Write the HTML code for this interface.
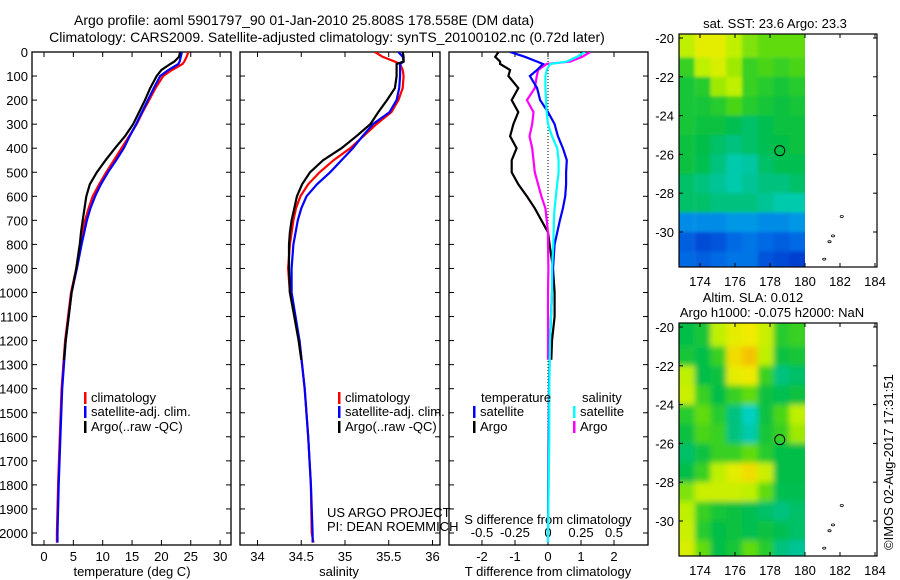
<!DOCTYPE html>
<html><head><meta charset="utf-8"><style>
body{margin:0;background:#fff}
svg{display:block;font-family:"Liberation Sans",sans-serif}
</style></head><body>
<svg id="fig" width="900" height="580" viewBox="0 0 900 580" xmlns="http://www.w3.org/2000/svg">
<defs>
<clipPath id="c1"><rect x="32" y="52" width="199" height="493"/></clipPath>
<clipPath id="c2"><rect x="240" y="52" width="200" height="493"/></clipPath>
<clipPath id="c3"><rect x="449" y="52" width="199" height="493"/></clipPath>
<clipPath id="m1c"><rect x="679" y="34" width="126" height="233"/></clipPath>
<clipPath id="m2c"><rect x="679" y="323" width="126" height="233"/></clipPath>
<filter id="bl" x="-5%" y="-5%" width="110%" height="110%"><feGaussianBlur stdDeviation="3"/></filter>
<filter id="bl2" x="-5%" y="-5%" width="110%" height="110%"><feGaussianBlur stdDeviation="1.5"/></filter>
</defs>
<text x="304" y="25" font-size="14" text-anchor="middle">Argo profile: aoml 5901797_90 01-Jan-2010 25.808S 178.558E (DM data)</text>
<text x="327" y="42" font-size="14" text-anchor="middle">Climatology: CARS2009. Satellite-adjusted climatology: synTS_20100102.nc (0.72d later)</text>
<g id="g"></g>
<text transform="translate(893,550) rotate(-90)" font-size="13">©IMOS 02-Aug-2017 17:31:51</text>
</svg>
<script>
// ---- profile data ----
const depthTop = [0,20,40,50,75,100,150,200,250,300,350,400,450,500,550,600,650,700,800,900,1000,1200,1400,1600,1800,2000,2040];
const tempClim = [24.6,24.3,23.9,23.6,21.8,20.3,19.0,17.9,16.8,15.8,14.5,13.2,11.9,10.6,9.4,8.3,7.6,7.0,6.1,5.5,4.6,3.6,3.0,2.7,2.4,2.2,2.2];
const tempSat  = [23.5,23.3,23.1,22.9,21.2,19.8,18.7,17.7,16.7,15.7,14.6,13.6,12.3,10.9,9.7,8.7,7.9,7.3,6.4,5.6,4.7,3.7,3.1,2.8,2.5,2.3,2.3];
const depthArgo = [0,20,40,50,75,100,150,200,250,300,350,400,450,500,550,600,650,700,750,800,900,1000,1100,1200,1280];
const tempArgo = [23.2,23.0,22.2,21.5,20.0,19.2,18.1,17.2,16.2,15.2,13.8,12.1,10.5,9.0,7.8,7.2,6.9,6.6,6.3,6.1,5.5,4.7,4.2,3.7,3.4];
const salClim = [35.34,35.43,35.57,35.63,35.66,35.67,35.66,35.61,35.53,35.36,35.21,35.06,34.87,34.71,34.58,34.49,34.44,34.41,34.37,34.35,34.37,34.48,34.54,34.58,34.61,34.62,34.64];
const salSat  = [35.61,35.66,35.67,35.63,35.63,35.63,35.62,35.59,35.51,35.32,35.2,35.09,34.96,34.83,34.68,34.56,34.5,34.46,34.41,34.39,34.39,34.48,34.54,34.58,34.61,34.63,34.63];
const salArgo = [35.66,35.67,35.67,35.59,35.59,35.59,35.57,35.48,35.38,35.29,35.13,34.96,34.75,34.6,34.51,34.45,34.42,34.39,34.37,34.36,34.36,34.37,34.42,34.47,34.5];
const dTSat  = [-1.15,-0.7,-0.33,-0.15,-0.33,-0.55,-0.33,-0.24,0,0.2,0.3,0.45,0.57,0.55,0.55,0.52,0.45,0.36,0.2,0.15,0.12,0.06,0.03,0.02,0.01,0,0];
const dSSat  = [0.28,0.22,0.14,0.015,-0.01,-0.02,-0.02,-0.015,-0.01,0,0.03,0.07,0.08,0.08,0.07,0.06,0.05,0.045,0.04,0.03,0.03,0.015,0.01,0.01,0.005,0,0];
const dTArgo = [-1.5,-1.6,-1.45,-1.45,-1.15,-1.2,-0.9,-1.1,-0.9,-1.05,-1.15,-0.95,-1.1,-1.1,-0.9,-0.64,-0.4,-0.2,0,0.05,0.15,0.2,0.2,0.12,0.1];
const dSArgo = [0.32,0.26,0.17,-0.01,-0.075,-0.085,-0.1,-0.16,-0.11,-0.12,-0.14,-0.12,-0.11,-0.1,-0.075,-0.05,-0.02,-0.01,0,0,0.003,0,0,0,0];
const depthTicks = [0,100,200,300,400,500,600,700,800,900,1000,1100,1200,1300,1400,1500,1600,1700,1800,1900,2000];
const tempTicks = [0,5,10,15,20,25,30];
const salTicks = [34,34.5,35,35.5,36];
const salTickLabels = ["34","34.5","35","35.5","36"];
const tdTicks = [-2,-1,0,1,2];
const sdTicks = [-0.5,-0.25,0,0.25,0.5];
const sdTickLabels = ["-0.5","-0.25","0","0.25","0.5"];
// ---- map data (values on colour scale 0..1) ----
const lonEdges = [172.8,173.7,174.6,175.5,176.4,177.3,178.2,179.1,180.0];
const latEdges = [-19.8,-21,-22,-23,-24,-25,-26,-27,-28,-29,-30,-31,-31.8];
const sstGrid = [
[0.72,0.78,0.78,0.72,0.68,0.66,0.66,0.66],
[0.62,0.72,0.76,0.7,0.62,0.64,0.62,0.64],
[0.58,0.6,0.7,0.72,0.62,0.6,0.58,0.6],
[0.58,0.58,0.6,0.64,0.6,0.58,0.56,0.58],
[0.58,0.56,0.56,0.54,0.52,0.54,0.56,0.56],
[0.56,0.55,0.52,0.5,0.52,0.54,0.55,0.56],
[0.56,0.54,0.5,0.46,0.47,0.52,0.54,0.54],
[0.52,0.5,0.48,0.46,0.48,0.5,0.5,0.52],
[0.52,0.52,0.5,0.5,0.5,0.48,0.46,0.46],
[0.3,0.3,0.3,0.32,0.32,0.3,0.3,0.32],
[0.22,0.18,0.2,0.24,0.26,0.24,0.22,0.24],
[0.24,0.22,0.24,0.26,0.26,0.2,0.18,0.16]];
const slaGrid = [
[0.55,0.58,0.72,0.78,0.8,0.74,0.6,0.62],
[0.58,0.55,0.62,0.82,0.86,0.72,0.56,0.58],
[0.72,0.55,0.56,0.78,0.8,0.62,0.5,0.52],
[0.74,0.62,0.55,0.62,0.66,0.56,0.54,0.56],
[0.6,0.66,0.6,0.5,0.44,0.56,0.64,0.72],
[0.56,0.64,0.62,0.5,0.46,0.58,0.62,0.7],
[0.52,0.56,0.62,0.62,0.66,0.6,0.55,0.55],
[0.55,0.62,0.72,0.78,0.82,0.74,0.55,0.55],
[0.68,0.74,0.74,0.74,0.72,0.66,0.54,0.54],
[0.72,0.62,0.58,0.56,0.54,0.52,0.5,0.52],
[0.74,0.6,0.55,0.56,0.54,0.56,0.54,0.52],
[0.76,0.66,0.55,0.58,0.66,0.6,0.5,0.48]];
const argoLon = 178.558, argoLat = -25.808;
const mapLonTicks = [174,176,178,180,182,184];
const mapLatTicks = [-20,-22,-24,-26,-28,-30];

const NS="http://www.w3.org/2000/svg";
const G=document.getElementById('g');
function mk(tag,attrs,parent){const e=document.createElementNS(NS,tag);for(const k in attrs)e.setAttribute(k,attrs[k]);(parent||G).appendChild(e);return e;}
const yD=d=>52+d*0.2405;
const xT=t=>44+t*5.87;
const xS=s=>257.5+(s-34)*87.5;
const xTd=v=>548+v*33;
const xSd=v=>548+v*132;

function frame(x0,x1,name){
  const r=mk('rect',{x:x0,y:52,width:x1-x0,height:493,fill:'none',stroke:'#000','stroke-width':1.3});
  
  
  depthTicks.forEach(d=>{mk('line',{x1:x0,x2:x0+5,y1:yD(d),y2:yD(d),stroke:'#000'});mk('line',{x1:x1,x2:x1-5,y1:yD(d),y2:yD(d),stroke:'#000'});});
}
frame(32,231,'temperature-panel');frame(240,440,'salinity-panel');frame(449,648,'difference-panel');
depthTicks.forEach(d=>{const t=mk('text',{x:28,y:yD(d)+5,'font-size':13,'text-anchor':'end'});t.textContent=d;

});
function xticks(vals,labels,fx,ly){vals.forEach((v,i)=>{const x=fx(v);mk('line',{x1:x,x2:x,y1:52,y2:57,stroke:'#000'});mk('line',{x1:x,x2:x,y1:545,y2:540,stroke:'#000'});
const t=mk('text',{x:x,y:ly,'font-size':13,'text-anchor':'middle'});t.textContent=labels[i];

});}
xticks(tempTicks,tempTicks,xT,561);
xticks(salTicks,salTickLabels,xS,561);
xticks(tdTicks,tdTicks.map(String),xTd,561);
sdTicks.forEach((v,i)=>{const t=mk('text',{x:xSd(v),y:537,'font-size':13,'text-anchor':'middle'});t.textContent=sdTickLabels[i];

});
function lbl(x,y,s,name,anchor){const t=mk('text',{x:x,y:y,'font-size':13,'text-anchor':anchor||'middle'});t.textContent=s;

}
lbl(132,576,'temperature (deg C)','x-axis-title-temperature');
lbl(339,576,'salinity','x-axis-title-salinity');
lbl(548,576,'T difference from climatology','x-axis-title-t-diff');
lbl(548,524,'S difference from climatology','s-diff-axis-title');
mk('line',{x1:548,x2:548,y1:52,y2:545,stroke:'#000','stroke-dasharray':'1,2'});

function series(depths,vals,fx,color,clip,name,w){
  const pts=vals.map((v,i)=>fx(v).toFixed(1)+','+yD(depths[i]).toFixed(1)).join(' ');
  const p=mk('polyline',{points:pts,fill:'none',stroke:color,'stroke-width':w||2.2,'clip-path':'url(#'+clip+')'});
  
  
}
series(depthTop,tempClim,xT,'#f00','c1','temp-climatology-line');
series(depthTop,tempSat,xT,'#00f','c1','temp-satellite-line');
series(depthArgo,tempArgo,xT,'#000','c1','temp-argo-line');
series(depthTop,salClim,xS,'#f00','c2','sal-climatology-line');
series(depthTop,salSat,xS,'#00f','c2','sal-satellite-line');
series(depthArgo,salArgo,xS,'#000','c2','sal-argo-line');
series(depthArgo,dTArgo,xTd,'#000','c3','tdiff-argo-line');
series(depthArgo,dSArgo,xSd,'#f0f','c3','sdiff-argo-line');
series(depthTop,dTSat,xTd,'#00f','c3','tdiff-satellite-line');
series(depthTop,dSSat,xSd,'#0ff','c3','sdiff-satellite-line');

function legend(x,y,color,txt,name){
  const g=mk('g',{});
  
  
  mk('rect',{x:x,y:y-10,width:2.5,height:12,fill:color},g);
  const t=mk('text',{x:x+7,y:y,'font-size':13},g);t.textContent=txt;
}
legend(84,402,'#f00','climatology','legend-temp-climatology');
legend(84,416,'#00f','satellite-adj. clim.','legend-temp-satellite');
legend(84,431,'#000','Argo(..raw -QC)','legend-temp-argo');
legend(338,402,'#f00','climatology','legend-sal-climatology');
legend(338,416,'#00f','satellite-adj. clim.','legend-sal-satellite');
legend(338,431,'#000','Argo(..raw -QC)','legend-sal-argo');
lbl(481,402,'temperature','legend-heading-temperature','start');
lbl(582,402,'salinity','legend-heading-salinity','start');
legend(473,416,'#00f','satellite','legend-tdiff-satellite');
legend(473,431,'#000','Argo','legend-tdiff-argo');
legend(573,416,'#0ff','satellite','legend-sdiff-satellite');
legend(573,431,'#f0f','Argo','legend-sdiff-argo');
lbl(327,517,'US ARGO PROJECT','project-label','start');
lbl(327,531,'PI: DEAN ROEMMICH','pi-label','start');

// ---- maps ----
const stops=[[0,[0,30,170]],[0.15,[0,60,205]],[0.25,[0,110,230]],[0.35,[0,170,230]],[0.42,[0,215,215]],[0.48,[0,195,150]],[0.55,[0,190,70]],[0.65,[80,215,20]],[0.72,[190,240,0]],[0.8,[240,235,0]],[0.88,[245,180,0]],[1,[240,40,0]]];
function cmap(v){for(let i=1;i<stops.length;i++){if(v<=stops[i][0]){const a=stops[i-1],b=stops[i],f=(v-a[0])/(b[0]-a[0]);return 'rgb('+a[1].map((c,k)=>Math.round(c+(b[1][k]-c)*f)).join(',')+')';}}return 'rgb(240,40,0)';}
const mx=lon=>679+(lon-172.8)*17.5;
function drawMap(grid,oy,clip,name,titles,titleX,blur){
  const my=lat=>oy+4+(-20-lat)*19.4;
  const g=mk('g',{'clip-path':'url(#'+clip+')'});
  
  
  const gg=mk('g',{filter:'url(#'+blur+')'},g);
  grid.forEach((row,r)=>row.forEach((v,c)=>{
    const x0=mx(lonEdges[c]),x1=mx(lonEdges[c+1]),y0=my(latEdges[r]),y1=my(latEdges[r+1]);
    const cell=mk('rect',{x:(c===0?x0-8:x0),y:(r===0?y0-8:y0),width:x1-x0+((c===0||c===row.length-1)?8:0.5),height:y1-y0+((r===0||r===grid.length-1)?8:0.5),fill:cmap(v)},gg);
    
    
  }));
  mk('rect',{x:805,y:oy,width:72,height:233,fill:'#fff'});
  const fr=mk('rect',{x:679,y:oy,width:198,height:233,fill:'none',stroke:'#000','stroke-width':1.2});
  
  
  mapLonTicks.forEach(l=>{const x=mx(l);mk('line',{x1:x,x2:x,y1:oy+233,y2:oy+229,stroke:'#000'});mk('line',{x1:x,x2:x,y1:oy,y2:oy+4,stroke:'#000'});
    const t=mk('text',{x:x,y:oy+252,'font-size':13,'text-anchor':'middle'});t.textContent=l;
    
    });
  mapLatTicks.forEach(l=>{const y=my(l);mk('line',{x1:679,x2:683,y1:y,y2:y,stroke:'#000'});mk('line',{x1:877,x2:873,y1:y,y2:y,stroke:'#000'});
    const t=mk('text',{x:674,y:y+5,'font-size':13,'text-anchor':'end'});t.textContent=l;
    
    });
  const c=mk('circle',{cx:mx(argoLon),cy:my(argoLat),r:5,fill:'none',stroke:'#000','stroke-width':1});
  
  
  [[182.1,-29.2],[181.6,-30.2],[181.4,-30.5],[181.1,-31.4]].forEach(p=>{mk('ellipse',{cx:mx(p[0]),cy:my(p[1]),rx:1.6,ry:1,fill:'none',stroke:'#000','stroke-width':0.8});});
  titles.forEach((s,i)=>{const t=mk('text',{x:titleX[i],y:oy-6-15*(titles.length-1-i),'font-size':13,'text-anchor':'middle'});t.textContent=s;
    
    });
}
drawMap(sstGrid,34,'m1c','sst-map',['sat. SST: 23.6 Argo: 23.3'],[775],'bl2');
drawMap(slaGrid,323,'m2c','sla-map',['Altim. SLA: 0.012','Argo h1000: -0.075 h2000: NaN'],[753,772],'bl');
</script>
</body></html>
